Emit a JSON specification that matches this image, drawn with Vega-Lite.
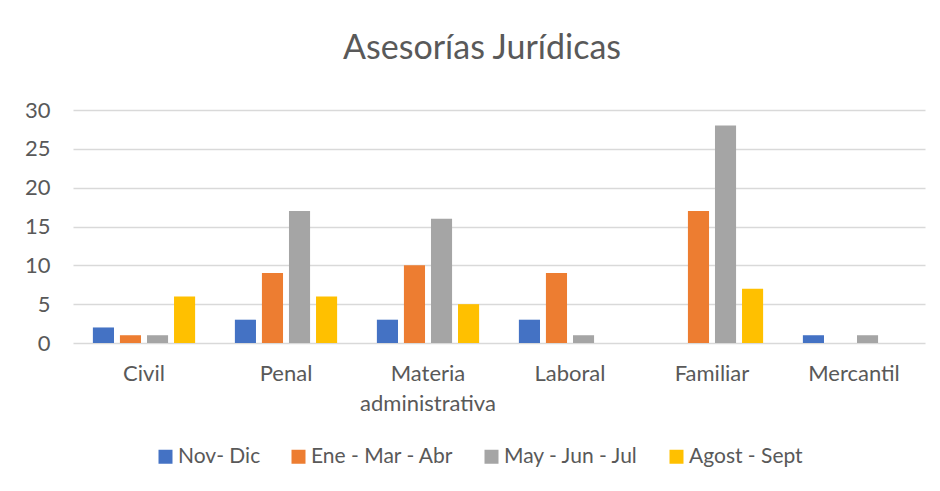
{
  "$schema": "https://vega.github.io/schema/vega-lite/v6.json",
  "autosize": "none",
  "width": 852,
  "height": 233,
  "padding": {"left": 73, "top": 110, "right": 15, "bottom": 148},
  "background": "white",
  "title": {
    "text": "Asesorías Jurídicas",
    "anchor": "middle",
    "font": "Lato",
    "fontSize": 34,
    "fontWeight": "normal",
    "color": "#595959",
    "baseline": "alphabetic",
    "offset": 6,
    "dx": -17
  },
  "data": {
    "values": [
      {"categoria": "Civil", "periodo": "Nov- Dic", "valor": 2},
      {"categoria": "Civil", "periodo": "Ene - Mar - Abr", "valor": 1},
      {"categoria": "Civil", "periodo": "May - Jun - Jul", "valor": 1},
      {"categoria": "Civil", "periodo": "Agost - Sept", "valor": 6},
      {"categoria": "Penal", "periodo": "Nov- Dic", "valor": 3},
      {"categoria": "Penal", "periodo": "Ene - Mar - Abr", "valor": 9},
      {"categoria": "Penal", "periodo": "May - Jun - Jul", "valor": 17},
      {"categoria": "Penal", "periodo": "Agost - Sept", "valor": 6},
      {"categoria": "Materia administrativa", "periodo": "Nov- Dic", "valor": 3},
      {"categoria": "Materia administrativa", "periodo": "Ene - Mar - Abr", "valor": 10},
      {"categoria": "Materia administrativa", "periodo": "May - Jun - Jul", "valor": 16},
      {"categoria": "Materia administrativa", "periodo": "Agost - Sept", "valor": 5},
      {"categoria": "Laboral", "periodo": "Nov- Dic", "valor": 3},
      {"categoria": "Laboral", "periodo": "Ene - Mar - Abr", "valor": 9},
      {"categoria": "Laboral", "periodo": "May - Jun - Jul", "valor": 1},
      {"categoria": "Laboral", "periodo": "Agost - Sept", "valor": 0},
      {"categoria": "Familiar", "periodo": "Nov- Dic", "valor": 0},
      {"categoria": "Familiar", "periodo": "Ene - Mar - Abr", "valor": 17},
      {"categoria": "Familiar", "periodo": "May - Jun - Jul", "valor": 28},
      {"categoria": "Familiar", "periodo": "Agost - Sept", "valor": 7},
      {"categoria": "Mercantil", "periodo": "Nov- Dic", "valor": 1},
      {"categoria": "Mercantil", "periodo": "Ene - Mar - Abr", "valor": 0},
      {"categoria": "Mercantil", "periodo": "May - Jun - Jul", "valor": 1},
      {"categoria": "Mercantil", "periodo": "Agost - Sept", "valor": 0}
    ]
  },
  "mark": {"type": "bar"},
  "encoding": {
    "x": {
      "field": "categoria",
      "type": "nominal",
      "sort": ["Civil", "Penal", "Materia administrativa", "Laboral", "Familiar", "Mercantil"],
      "scale": {"paddingInner": 0.28, "paddingOuter": 0.14},
      "axis": {
        "title": null,
        "labelAngle": 0,
        "domain": false,
        "ticks": false,
        "labelFont": "Lato",
        "labelFontSize": 22,
        "labelColor": "#595959",
        "labelPadding": 20,
        "labelLineHeight": 30,
        "labelExpr": "datum.value == 'Materia administrativa' ? ['Materia', 'administrativa'] : datum.value"
      }
    },
    "xOffset": {
      "field": "periodo",
      "type": "nominal",
      "sort": ["Nov- Dic", "Ene - Mar - Abr", "May - Jun - Jul", "Agost - Sept"],
      "scale": {"paddingInner": 0.22, "paddingOuter": 0}
    },
    "y": {
      "field": "valor",
      "type": "quantitative",
      "scale": {"domain": [0, 30]},
      "axis": {
        "title": null,
        "values": [0, 5, 10, 15, 20, 25, 30],
        "domain": false,
        "ticks": false,
        "gridColor": "#D9D9D9",
        "gridWidth": 1.3,
        "labelFont": "Lato",
        "labelFontSize": 22,
        "labelColor": "#595959",
        "labelPadding": 23
      }
    },
    "color": {
      "field": "periodo",
      "type": "nominal",
      "sort": ["Nov- Dic", "Ene - Mar - Abr", "May - Jun - Jul", "Agost - Sept"],
      "scale": {
        "domain": ["Nov- Dic", "Ene - Mar - Abr", "May - Jun - Jul", "Agost - Sept"],
        "range": ["#4472C4", "#ED7D31", "#A5A5A5", "#FFC000"]
      },
      "legend": {
        "title": null,
        "orient": "none",
        "direction": "horizontal",
        "legendX": 82,
        "legendY": 336,
        "padding": 0,
        "symbolType": "square",
        "symbolSize": 196,
        "symbolStrokeWidth": 0,
        "labelFont": "Lato",
        "labelFontSize": 21,
        "labelColor": "#595959",
        "labelOffset": 2,
        "columnPadding": 27
      }
    }
  },
  "config": {
    "view": {"stroke": null}
  }
}
